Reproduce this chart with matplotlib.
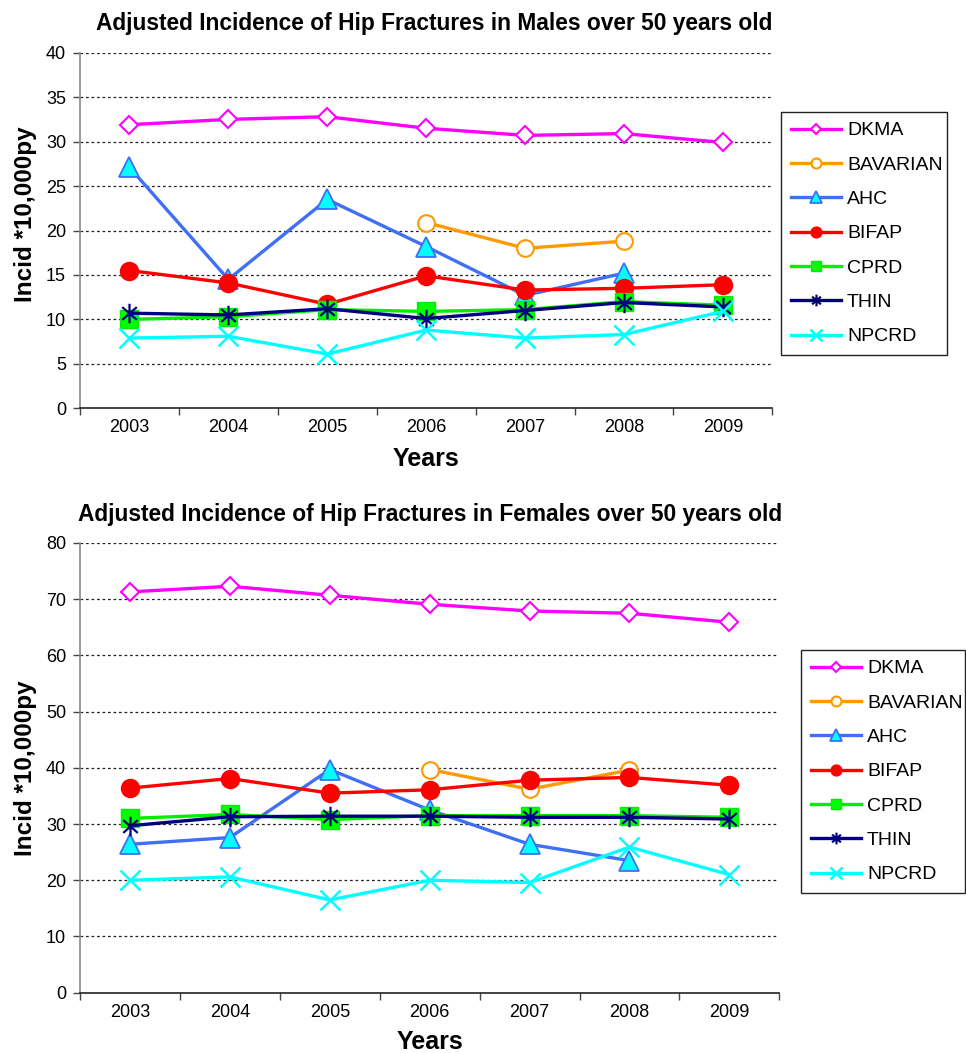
import numpy as np
import matplotlib
matplotlib.use("Agg")
import matplotlib.pyplot as plt
from matplotlib.path import Path
from matplotlib.ticker import FixedLocator, FixedFormatter, NullFormatter, MultipleLocator

plt.rcParams['font.family'] = ['Liberation Sans', 'DejaVu Sans']

# ---------------- data ----------------
years = ["2003", "2004", "2005", "2006", "2007", "2008", "2009"]
series_names = ["DKMA", "BAVARIAN", "AHC", "BIFAP", "CPRD", "THIN", "NPCRD"]
nan = np.nan

male_dkma = [31.9, 32.5, 32.8, 31.5, 30.7, 30.9, 29.9]
male_bavarian = [nan, nan, nan, 20.9, 18.0, 18.8, nan]
male_ahc = [27.1, 14.5, 23.5, 18.2, 12.7, 15.2, nan]
male_bifap = [15.5, 14.1, 11.7, 14.9, 13.3, 13.5, 13.9]
male_cprd = [10.0, 10.3, 11.1, 10.9, 11.1, 12.0, 11.6]
male_thin = [10.7, 10.5, 11.2, 10.1, 11.0, 11.9, 11.4]
male_npcrd = [7.9, 8.1, 6.1, 8.8, 7.9, 8.3, 10.9]

female_dkma = [71.3, 72.3, 70.7, 69.1, 67.9, 67.5, 65.9]
female_bavarian = [nan, nan, nan, 39.7, 36.2, 39.6, nan]
female_ahc = [26.4, 27.6, 39.7, 32.5, 26.4, 23.5, nan]
female_bifap = [36.4, 38.1, 35.5, 36.1, 37.8, 38.3, 36.9]
female_cprd = [31.0, 31.7, 30.8, 31.5, 31.5, 31.5, 31.2]
female_thin = [29.7, 31.3, 31.4, 31.4, 31.2, 31.2, 30.9]
female_npcrd = [20.0, 20.6, 16.5, 20.0, 19.6, 25.9, 21.0]

male_series = [male_dkma, male_bavarian, male_ahc, male_bifap, male_cprd, male_thin, male_npcrd]
female_series = [female_dkma, female_bavarian, female_ahc, female_bifap, female_cprd, female_thin, female_npcrd]

male_title = "Adjusted Incidence of Hip Fractures in Males over 50 years old"
female_title = "Adjusted Incidence of Hip Fractures in Females over 50 years old"
ylabel_text = "Incid *10,000py"
xlabel_text = "Years"

# ---------------- styles ----------------
asterisk = Path([(0, 1), (0, -1), (-0.75, 0.66), (0.75, -0.66), (-0.75, -0.66), (0.75, 0.66)],
                [Path.MOVETO, Path.LINETO] * 3)

styles = [
    dict(color='#FF00FF', marker='D', ms=9, mfc='white', mec='#FF00FF', mew=1.5),
    dict(color='#FF9900', marker='o', ms=12, mfc='white', mec='#FF9900', mew=1.5),
    dict(color='#3F6FF5', marker='^', ms=14, mfc='#00FFFF', mec='#3F6FF5', mew=1.3),
    dict(color='#FF0000', marker='o', ms=13, mfc='#FF0000', mec='#FF0000', mew=1),
    dict(color='#00EE00', marker='s', ms=13, mfc='#00FF00', mec='#00EE00', mew=1),
    dict(color='#000080', marker=asterisk, ms=14, mfc='none', mec='#000080', mew=1.6),
    dict(color='#00FFFF', marker='x', ms=14, mfc='none', mec='#00FFFF', mew=1.8),
]

fig = plt.figure(figsize=(9.66, 10.53), dpi=100)

ax1 = fig.add_axes([0.08282, 0.61225, 0.71667, 0.33770])
ax2 = fig.add_axes([0.08282, 0.05727, 0.72391, 0.42707])

x = np.arange(len(years))


def setup(ax, data, ymax, ystep, title, title_x, legend_bbox, xlab_y, ylab_y):
    for name, vals, st in zip(series_names, data, styles):
        ax.plot(x, vals, label=name, lw=2.4, solid_joinstyle='round', **st)
    ax.set_xlim(-0.5, len(years) - 0.5)
    ax.set_ylim(0, ymax)
    ax.yaxis.set_major_locator(MultipleLocator(ystep))
    # gridlines
    for yv in np.arange(ystep, ymax + 0.01, ystep):
        ax.axhline(yv, color='#222222', lw=0.9, ls=(0, (2.2, 2.2)), zorder=0)
    # x ticks: marks at category boundaries, labels at centers
    ax.xaxis.set_major_locator(FixedLocator(np.arange(-0.5, len(years), 1.0)))
    ax.xaxis.set_major_formatter(NullFormatter())
    ax.xaxis.set_minor_locator(FixedLocator(x))
    ax.xaxis.set_minor_formatter(FixedFormatter(years))
    ax.tick_params(axis='x', which='major', direction='out', length=5, width=1, color='#444444')
    ax.tick_params(axis='x', which='minor', length=0, pad=8, labelsize=13)
    ax.tick_params(axis='y', direction='out', length=5, width=1, color='#444444', pad=5, labelsize=13)
    for s in ['top', 'right']:
        ax.spines[s].set_visible(False)
    ax.spines['left'].set_color('#888888')
    ax.spines['left'].set_linewidth(1.2)
    ax.spines['bottom'].set_color('#222222')
    ax.spines['bottom'].set_linewidth(1.2)
    ax.set_title(title, fontsize=16.4, fontweight='bold', pad=16, x=title_x)
    ax.set_ylabel(ylabel_text, fontsize=17.5, fontweight='bold')
    ax.yaxis.set_label_coords(-0.062, ylab_y)
    ax.set_xlabel(xlabel_text, fontsize=18, fontweight='bold')
    ax.xaxis.set_label_coords(0.5, xlab_y)
    leg = ax.legend(loc='upper left', bbox_to_anchor=legend_bbox, bbox_transform=fig.transFigure,
                    mode='expand', borderaxespad=0, fontsize=14, labelspacing=0.86,
                    handlelength=2.6, handletextpad=0.3, markerscale=0.6, fancybox=False,
                    framealpha=1, edgecolor='#222222', borderpad=0.5)
    leg.get_frame().set_linewidth(1.0)


setup(ax1, male_series, 40, 5, male_title, 0.5116,
      (0.8085, 0.66572, 0.17184, 0.22792), -0.108, 0.546)
setup(ax2, female_series, 80, 10, female_title, 0.5,
      (0.8292, 0.1548, 0.1698, 0.2279), -0.083, 0.5)

fig.savefig("out.png", dpi=100)
